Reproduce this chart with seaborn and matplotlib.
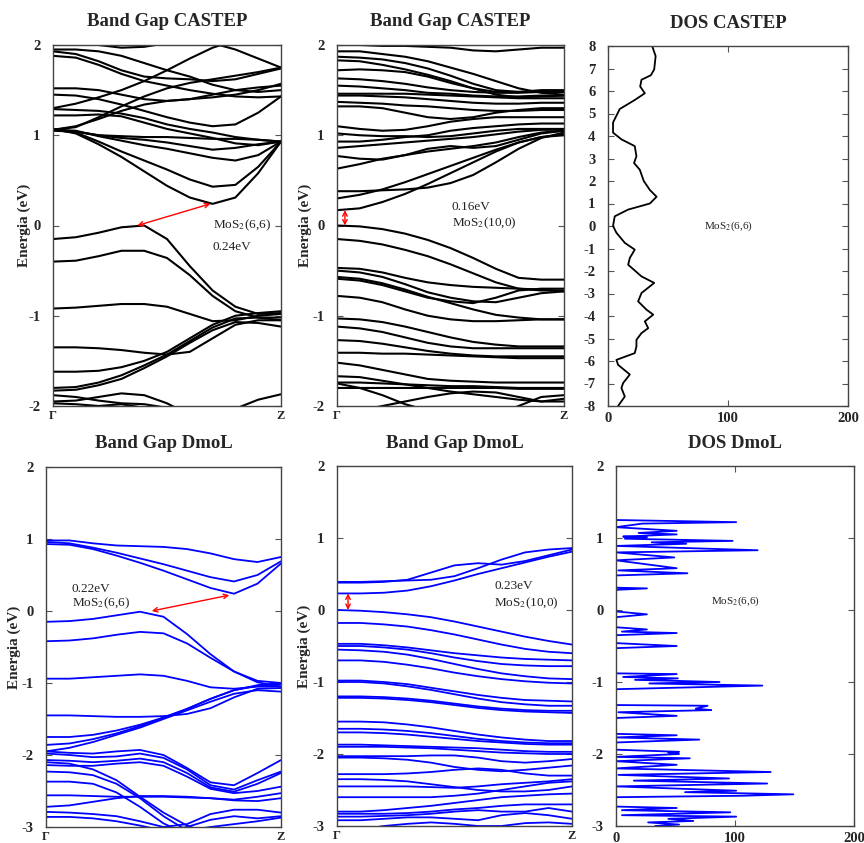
import numpy as np
import pandas as pd
import seaborn as sns
import matplotlib
matplotlib.use("Agg")
import matplotlib.pyplot as plt

# k-path Gamma -> Z, sampled at 11 points
K_PATH = [0.0, 0.1, 0.2, 0.3, 0.4, 0.5, 0.6, 0.7, 0.8, 0.9, 1.0]

# CASTEP MoS2(6,6) bands (eV)
CASTEP_66_BANDS = [
    [1.07, 1.02, 0.90, 0.76, 0.60, 0.44, 0.31, 0.24, 0.31, 0.58, 0.93],
    [1.06, 1.03, 0.93, 0.82, 0.72, 0.62, 0.51, 0.43, 0.45, 0.65, 0.93],
    [1.06, 1.05, 0.99, 0.94, 0.89, 0.85, 0.80, 0.75, 0.72, 0.78, 0.93],
    [1.05, 1.04, 1.00, 0.97, 0.95, 0.92, 0.88, 0.84, 0.86, 0.90, 0.93],
    [1.07, 1.04, 1.00, 0.99, 0.98, 0.98, 0.97, 0.96, 0.96, 0.95, 0.93],
    [1.22, 1.22, 1.23, 1.21, 1.14, 1.07, 1.02, 0.97, 0.91, 0.89, 0.93],
    [1.29, 1.28, 1.27, 1.24, 1.19, 1.12, 1.07, 1.03, 0.98, 0.95, 0.93],
    [1.06, 1.09, 1.20, 1.32, 1.43, 1.52, 1.58, 1.62, 1.66, 1.70, 1.75],
    [1.06, 1.10, 1.18, 1.27, 1.34, 1.38, 1.40, 1.42, 1.45, 1.50, 1.57],
    [1.52, 1.52, 1.50, 1.45, 1.40, 1.38, 1.40, 1.45, 1.50, 1.53, 1.55],
    [1.45, 1.44, 1.40, 1.34, 1.27, 1.20, 1.14, 1.10, 1.12, 1.25, 1.43],
    [1.93, 1.90, 1.82, 1.72, 1.65, 1.63, 1.62, 1.60, 1.62, 1.68, 1.74],
    [1.88, 1.86, 1.78, 1.68, 1.60, 1.55, 1.50, 1.46, 1.43, 1.42, 1.43],
    [1.95, 1.95, 1.93, 1.88, 1.80, 1.72, 1.65, 1.56, 1.50, 1.48, 1.50],
    [1.30, 1.35, 1.42, 1.50, 1.60, 1.72, 1.85, 1.97, 2.05, 2.10, 2.10],
    [2.10, 2.05, 2.00, 1.97, 1.98, 2.02, 2.05, 2.08, 2.10, 2.10, 2.10],
    [2.30, 2.25, 2.20, 2.15, 2.10, 2.08, 2.05, 2.02, 1.95, 1.85, 1.75],
    [-0.15, -0.13, -0.08, -0.02, 0.00, -0.15, -0.45, -0.72, -0.90, -0.98, -0.97],
    [-0.40, -0.39, -0.34, -0.28, -0.28, -0.36, -0.55, -0.78, -0.95, -1.02, -1.05],
    [-0.92, -0.91, -0.89, -0.87, -0.87, -0.90, -0.98, -1.06, -1.05, -1.00, -0.98],
    [-1.35, -1.35, -1.36, -1.38, -1.41, -1.43, -1.40, -1.25, -1.10, -1.05, -1.05],
    [-1.62, -1.62, -1.61, -1.57, -1.50, -1.40, -1.25, -1.10, -1.00, -0.97, -0.95],
    [-1.80, -1.79, -1.74, -1.66, -1.55, -1.43, -1.28, -1.13, -1.03, -1.02, -1.02],
    [-1.83, -1.82, -1.77, -1.70, -1.58, -1.45, -1.30, -1.16, -1.07, -1.08, -1.12],
    [-1.88, -1.90, -1.94, -1.97, -1.98, -2.02, -2.10, -2.20, -2.30, -2.40, -2.45],
    [-1.95, -1.94, -1.90, -1.86, -1.88, -1.97, -2.10, -2.20, -2.25, -2.25, -2.25],
    [-1.97, -1.98, -2.00, -1.98, -2.02, -2.10, -2.20, -2.30, -2.35, -2.35, -2.35],
    [-2.40, -2.40, -2.40, -2.40, -2.38, -2.33, -2.25, -2.15, -2.03, -1.93, -1.87],
]

# CASTEP MoS2(10,0) bands (eV)
CASTEP_100_BANDS = [
    [0.17, 0.19, 0.26, 0.35, 0.46, 0.58, 0.70, 0.82, 0.92, 0.98, 1.00],
    [0.30, 0.34, 0.40, 0.48, 0.57, 0.66, 0.75, 0.84, 0.92, 0.98, 1.01],
    [0.38, 0.38, 0.39, 0.40, 0.42, 0.47, 0.56, 0.70, 0.85, 0.97, 1.03],
    [0.63, 0.68, 0.74, 0.78, 0.82, 0.85, 0.88, 0.92, 0.98, 1.03, 1.05],
    [0.77, 0.74, 0.73, 0.78, 0.85, 0.88, 0.86, 0.88, 0.95, 1.02, 1.05],
    [0.86, 0.88, 0.90, 0.92, 0.94, 0.96, 0.98, 1.01, 1.04, 1.06, 1.06],
    [0.93, 0.93, 0.95, 0.98, 1.00, 1.05, 1.08, 1.10, 1.12, 1.13, 1.13],
    [1.02, 1.00, 0.99, 0.99, 0.98, 0.99, 1.02, 1.05, 1.07, 1.07, 1.07],
    [1.10, 1.07, 1.05, 1.06, 1.10, 1.15, 1.18, 1.20, 1.20, 1.20, 1.20],
    [1.32, 1.32, 1.30, 1.25, 1.20, 1.18, 1.20, 1.25, 1.28, 1.30, 1.30],
    [1.37, 1.36, 1.35, 1.33, 1.32, 1.30, 1.28, 1.27, 1.27, 1.28, 1.28],
    [1.44, 1.44, 1.43, 1.42, 1.40, 1.38, 1.36, 1.35, 1.35, 1.36, 1.36],
    [1.46, 1.46, 1.46, 1.46, 1.45, 1.44, 1.43, 1.42, 1.41, 1.41, 1.41],
    [1.55, 1.54, 1.52, 1.50, 1.47, 1.46, 1.44, 1.43, 1.43, 1.44, 1.44],
    [1.63, 1.62, 1.60, 1.57, 1.53, 1.50, 1.48, 1.47, 1.47, 1.48, 1.48],
    [1.72, 1.73, 1.72, 1.70, 1.65, 1.58, 1.52, 1.48, 1.48, 1.50, 1.50],
    [1.83, 1.82, 1.78, 1.73, 1.67, 1.60, 1.52, 1.45, 1.42, 1.43, 1.44],
    [1.87, 1.86, 1.84, 1.80, 1.74, 1.66, 1.57, 1.50, 1.48, 1.48, 1.48],
    [1.93, 1.93, 1.90, 1.87, 1.82, 1.75, 1.68, 1.60, 1.52, 1.47, 1.45],
    [2.00, 2.00, 1.99, 1.99, 1.98, 1.97, 1.94, 1.93, 1.95, 1.97, 1.97],
    [0.00, -0.01, -0.04, -0.09, -0.16, -0.25, -0.36, -0.48, -0.58, -0.60, -0.60],
    [-0.15, -0.17, -0.21, -0.27, -0.34, -0.43, -0.53, -0.63, -0.70, -0.72, -0.72],
    [-0.47, -0.48, -0.52, -0.58, -0.63, -0.66, -0.68, -0.69, -0.70, -0.71, -0.73],
    [-0.50, -0.52, -0.57, -0.65, -0.74, -0.80, -0.84, -0.85, -0.80, -0.75, -0.73],
    [-0.57, -0.59, -0.64, -0.71, -0.79, -0.86, -0.93, -0.99, -1.02, -1.04, -1.04],
    [-0.59, -0.61, -0.66, -0.73, -0.80, -0.84, -0.86, -0.80, -0.72, -0.70, -0.70],
    [-0.78, -0.80, -0.85, -0.93, -1.00, -1.04, -1.06, -1.06, -1.05, -1.04, -1.04],
    [-1.03, -1.04, -1.07, -1.12, -1.18, -1.24, -1.29, -1.32, -1.34, -1.34, -1.34],
    [-1.12, -1.14, -1.18, -1.24, -1.30, -1.34, -1.36, -1.36, -1.36, -1.36, -1.36],
    [-1.27, -1.28, -1.31, -1.35, -1.39, -1.42, -1.44, -1.45, -1.45, -1.45, -1.45],
    [-1.41, -1.41, -1.42, -1.42, -1.43, -1.44, -1.45, -1.46, -1.47, -1.47, -1.47],
    [-1.52, -1.55, -1.60, -1.65, -1.70, -1.72, -1.73, -1.74, -1.74, -1.74, -1.74],
    [-1.67, -1.68, -1.72, -1.76, -1.80, -1.84, -1.87, -1.90, -1.93, -1.95, -1.95],
    [-1.74, -1.74, -1.75, -1.76, -1.77, -1.78, -1.78, -1.79, -1.80, -1.80, -1.80],
    [-1.80, -1.80, -1.80, -1.80, -1.80, -1.80, -1.80, -1.80, -1.81, -1.81, -1.81],
    [-2.10, -2.05, -2.00, -1.95, -1.90, -1.86, -1.84, -1.85, -1.90, -1.95, -1.92],
    [-1.75, -1.80, -1.88, -1.98, -2.05, -2.12, -2.15, -2.10, -2.00, -1.90, -1.88],
]

# DMol3 MoS2(6,6) bands (eV)
DMOL_66_BANDS = [
    [0.93, 0.92, 0.86, 0.77, 0.67, 0.56, 0.44, 0.32, 0.24, 0.38, 0.66],
    [0.96, 0.94, 0.88, 0.81, 0.73, 0.65, 0.56, 0.47, 0.41, 0.50, 0.69],
    [0.98, 0.98, 0.94, 0.91, 0.90, 0.89, 0.86, 0.80, 0.72, 0.68, 0.75],
    [-0.15, -0.14, -0.11, -0.06, -0.01, -0.08, -0.32, -0.60, -0.84, -0.99, -1.05],
    [-0.42, -0.41, -0.38, -0.33, -0.29, -0.31, -0.45, -0.65, -0.84, -0.97, -1.00],
    [-0.94, -0.94, -0.92, -0.90, -0.88, -0.90, -0.97, -1.06, -1.08, -1.05, -1.05],
    [-1.45, -1.45, -1.46, -1.47, -1.47, -1.46, -1.43, -1.35, -1.20, -1.08, -1.07],
    [-1.75, -1.75, -1.72, -1.66, -1.58, -1.48, -1.36, -1.22, -1.10, -1.03, -1.00],
    [-1.86, -1.84, -1.78, -1.70, -1.60, -1.48, -1.36, -1.22, -1.10, -1.04, -1.02],
    [-1.95, -1.90, -1.82, -1.72, -1.62, -1.50, -1.38, -1.26, -1.15, -1.10, -1.12],
    [-1.95, -1.97, -1.98, -1.95, -1.93, -2.00, -2.18, -2.38, -2.42, -2.25, -2.07],
    [-1.98, -2.00, -2.03, -2.02, -1.98, -2.04, -2.20, -2.42, -2.48, -2.35, -2.23],
    [-2.07, -2.08, -2.10, -2.08, -2.05, -2.10, -2.25, -2.45, -2.51, -2.40, -2.25],
    [-2.14, -2.15, -2.15, -2.12, -2.10, -2.15, -2.30, -2.47, -2.53, -2.50, -2.44],
    [-2.56, -2.56, -2.57, -2.58, -2.58, -2.58, -2.59, -2.60, -2.63, -2.64, -2.60],
    [-2.23, -2.24, -2.28, -2.40, -2.60, -2.85, -3.05, -3.20, -3.30, -3.30, -3.30],
    [-2.37, -2.37, -2.40, -2.52, -2.72, -2.95, -3.10, -3.20, -3.30, -3.30, -3.30],
    [-2.10, -2.12, -2.20, -2.35, -2.58, -2.80, -2.98, -3.10, -3.20, -3.30, -3.30],
    [-2.72, -2.70, -2.65, -2.60, -2.57, -2.57, -2.58, -2.60, -2.62, -2.58, -2.53],
    [-2.79, -2.80, -2.82, -2.85, -2.92, -3.00, -2.96, -2.82, -2.76, -2.76, -2.80],
    [-2.86, -2.86, -2.88, -2.92, -2.98, -3.05, -3.00, -2.90, -2.85, -2.88, -2.85],
    [-3.30, -3.30, -3.25, -3.20, -3.15, -3.10, -3.05, -3.00, -2.96, -2.92, -2.87],
]

# DMol3 MoS2(10,0) bands (eV)
DMOL_100_BANDS = [
    [0.23, 0.23, 0.24, 0.27, 0.33, 0.41, 0.50, 0.58, 0.66, 0.74, 0.81],
    [0.38, 0.38, 0.39, 0.42, 0.52, 0.62, 0.65, 0.63, 0.68, 0.76, 0.84],
    [0.39, 0.39, 0.40, 0.41, 0.42, 0.47, 0.58, 0.70, 0.80, 0.84, 0.86],
    [0.00, -0.01, -0.03, -0.06, -0.10, -0.16, -0.23, -0.30, -0.37, -0.43, -0.48],
    [-0.18, -0.18, -0.20, -0.23, -0.28, -0.34, -0.41, -0.48, -0.54, -0.58, -0.60],
    [-0.47, -0.47, -0.49, -0.52, -0.56, -0.60, -0.63, -0.66, -0.68, -0.69, -0.70],
    [-0.50, -0.50, -0.52, -0.55, -0.60, -0.66, -0.71, -0.75, -0.77, -0.78, -0.78],
    [-0.55, -0.56, -0.58, -0.62, -0.68, -0.75, -0.82, -0.88, -0.92, -0.95, -0.96],
    [-0.70, -0.70, -0.72, -0.76, -0.81, -0.87, -0.92, -0.96, -0.99, -1.01, -1.02],
    [-0.98, -0.98, -1.00, -1.03, -1.08, -1.13, -1.18, -1.22, -1.25, -1.26, -1.27],
    [-1.00, -1.00, -1.02, -1.06, -1.11, -1.17, -1.23, -1.28, -1.31, -1.33, -1.33],
    [-1.20, -1.20, -1.21, -1.23, -1.26, -1.30, -1.34, -1.37, -1.39, -1.40, -1.40],
    [-1.22, -1.22, -1.23, -1.25, -1.28, -1.32, -1.36, -1.39, -1.41, -1.42, -1.43],
    [-1.55, -1.55, -1.56, -1.59, -1.63, -1.68, -1.73, -1.77, -1.80, -1.82, -1.82],
    [-1.65, -1.65, -1.66, -1.68, -1.71, -1.75, -1.79, -1.82, -1.84, -1.85, -1.85],
    [-1.70, -1.70, -1.71, -1.73, -1.76, -1.79, -1.82, -1.84, -1.86, -1.87, -1.87],
    [-1.87, -1.87, -1.88, -1.89, -1.90, -1.91, -1.92, -1.94, -1.96, -1.97, -1.97],
    [-1.90, -1.90, -1.90, -1.91, -1.92, -1.94, -1.96, -1.98, -1.99, -2.00, -2.00],
    [-2.03, -2.03, -2.03, -2.03, -2.02, -2.02, -2.05, -2.10, -2.12, -2.10, -2.07],
    [-2.05, -2.05, -2.06, -2.08, -2.12, -2.18, -2.22, -2.24, -2.22, -2.19, -2.16],
    [-2.28, -2.28, -2.28, -2.27, -2.25, -2.22, -2.20, -2.22, -2.27, -2.30, -2.30],
    [-2.35, -2.35, -2.36, -2.38, -2.42, -2.46, -2.50, -2.52, -2.52, -2.50, -2.45],
    [-2.45, -2.45, -2.45, -2.45, -2.46, -2.47, -2.45, -2.42, -2.40, -2.38, -2.35],
    [-2.60, -2.60, -2.60, -2.60, -2.60, -2.58, -2.55, -2.50, -2.45, -2.40, -2.38],
    [-2.80, -2.80, -2.78, -2.75, -2.72, -2.68, -2.64, -2.60, -2.58, -2.56, -2.55],
    [-2.83, -2.83, -2.83, -2.82, -2.80, -2.77, -2.75, -2.72, -2.70, -2.70, -2.70],
    [-2.87, -2.87, -2.86, -2.85, -2.83, -2.80, -2.78, -2.80, -2.80, -2.75, -2.80],
    [-2.92, -2.92, -2.90, -2.88, -2.88, -2.90, -2.92, -2.85, -2.82, -2.85, -2.90],
    [-3.10, -3.05, -3.00, -2.97, -2.95, -2.97, -3.00, -3.00, -2.96, -2.95, -2.97],
]

# DOS CASTEP (energy, states)
DOS_CASTEP_E = [8.0, 7.55, 6.96, 6.7, 6.5, 6.2, 5.9, 5.6, 5.2, 4.6, 4.15, 3.85, 3.55,
                3.1, 2.8, 2.5, 2.0, 1.6, 1.3, 1.0, 0.73, 0.43, 0.0, -0.3, -0.75,
                -1.05, -1.42, -1.72, -2.24, -2.53, -2.98, -3.35, -3.72, -3.94,
                -4.24, -4.54, -4.76, -5.06, -5.35, -5.65, -5.95, -6.17, -6.6,
                -6.98, -7.2, -7.58, -8.0]
DOS_CASTEP_N = [36.8, 39.7, 38.5, 35.7, 27.9, 26.8, 30.7, 22.3, 9.8, 4.2, 4.2, 11.2, 22.3,
                23.7, 21.7, 26.5, 29.8, 34.9, 40.5, 34.9, 16.8, 5.6, 4.2, 7.0, 14.0,
                22.3, 18.2, 16.8, 27.9, 38.5, 27.9, 25.1, 32.1, 37.7,
                30.7, 33.5, 27.9, 23.7, 23.7, 22.3, 7.0, 8.4, 18.2,
                12.6, 11.2, 14.0, 8.4]

# DOS DMol3 (energy, states)
DOS_DMOL_E = [2.0, 1.25, 1.22, 1.2, 1.15, 1.1, 1.07, 1.05, 1.02, 1.01, 0.99, 0.96, 0.94,
              0.92, 0.89, 0.83, 0.8, 0.73, 0.69, 0.58, 0.55, 0.51, 0.48, 0.31, 0.30,
              0.28, -0.02, -0.06, -0.1, -0.24, -0.27, -0.30, -0.32, -0.35, -0.46,
              -0.5, -0.53, -0.88, -0.89, -0.93, -0.95, -0.97, -1.0, -1.02, -1.05,
              -1.1, -1.32, -1.33, -1.37, -1.39, -1.42, -1.47, -1.5, -1.72, -1.74,
              -1.77, -1.8, -1.84, -1.94, -1.97, -1.98, -2.0, -2.04, -2.06, -2.1,
              -2.15, -2.2, -2.25, -2.29, -2.34, -2.37, -2.41, -2.45, -2.51, -2.53,
              -2.56, -2.58, -2.6, -2.73, -2.75, -2.78, -2.81, -2.85, -2.87, -2.9,
              -2.93, -2.95, -2.98, -3.0]
DOS_DMOL_N = [0, 0, 101, 22, 0, 51, 19, 51, 6, 26, 7.5, 98, 30,
              59, 0.5, 119, 0, 49, 0, 51, 2, 60, 0, 0, 26,
              0, 0, 26, 0, 0, 26, 5, 51, 0, 0,
              51, 0, 0, 51, 6, 52, 16, 87, 28, 123,
              0, 0, 77, 67, 80, 2, 51, 0, 0, 51,
              0, 70, 0, 0, 53, 44, 53, 0, 62, 0,
              51, 0, 130, 2, 95, 15, 127, 0, 101, 58,
              149, 106, 0, 0, 51, 5, 96, 5, 101, 44,
              65, 27, 53, 33]

# band-gap arrows: (k_vbm, E_vbm, k_cbm, E_cbm)
GAP_CASTEP_66 = [0.37, 0.0, 0.69, 0.24]
GAP_CASTEP_100 = [0.035, 0.0, 0.035, 0.17]
GAP_DMOL_66 = [0.45, 0.0, 0.78, 0.22]
GAP_DMOL_100 = [0.047, 0.0, 0.047, 0.23]

BLACK = "#000000"
BLUE = "#0000ff"

sns.set_style("ticks")
plt.rcParams["font.family"] = ["Liberation Serif", "DejaVu Serif"]
plt.rcParams["mathtext.fontset"] = "stix"

W, H = 864, 843
fig = plt.figure(figsize=(W / 100, H / 100), dpi=100)


def px_axes(l, t, r, b):
    return fig.add_axes([l / W, 1 - b / H, (r - l) / W, (b - t) / H])


def band_frame(bands):
    rows = []
    for i, vals in enumerate(bands):
        for k, e in zip(K_PATH, vals):
            rows.append((i, k, e))
    return pd.DataFrame(rows, columns=["band", "k", "E"])


def style_axes(ax, yticks):
    for s in ax.spines.values():
        s.set_visible(True)
        s.set_color("#444444")
        s.set_linewidth(1.0)
    ax.set_yticks(yticks)
    ax.set_yticklabels([str(t) for t in yticks], fontweight="bold", fontsize=10.5)
    ax.tick_params(axis="y", direction="in", length=4, right=True, pad=9,
                   color="#555555")
    ax.set_xlabel("")
    ax.set_ylabel("")


def band_panel(box, bands, color, lw, ylim, yticks, gap, labels, title, ylabel_x):
    ax = px_axes(*box)
    df = band_frame(bands)
    sns.lineplot(data=df, x="k", y="E", units="band", estimator=None,
                 color=color, lw=lw, ax=ax, legend=False)
    ax.set_xlim(0, 1)
    ax.set_ylim(*ylim)
    style_axes(ax, yticks)
    ax.set_xticks([0, 1])
    ax.set_xticklabels(["Γ", "Z"], fontweight="bold", fontsize=9)
    ax.tick_params(axis="x", length=0, pad=3)
    ax.annotate("", xy=(gap[0], gap[1]), xytext=(gap[2], gap[3]),
                arrowprops=dict(arrowstyle="<->", color="red", lw=1.0,
                                shrinkA=0, shrinkB=0, mutation_scale=8))
    for x, y, s in labels:
        ax.text(x, y, s, fontsize=9.5, color="#222222", va="center", ha="left")
    l, t, r, b = box
    fig.text((l + r) / 2 / W, 1 - (t - 23) / H, title, ha="center", va="center",
             fontsize=13.5, fontweight="bold")
    fig.text(ylabel_x / W, 1 - (t + b) / 2 / H, "Energia (eV)", rotation=90,
             ha="center", va="center", fontsize=11, fontweight="bold")
    return ax


def dos_panel(box, energy, states, color, ylim, yticks, label_y, title):
    ax = px_axes(*box)
    sns.lineplot(x=states, y=energy, sort=False, estimator=None,
                 color=color, lw=1.3, ax=ax)
    ax.set_xlim(0, 200)
    ax.set_ylim(*ylim)
    style_axes(ax, yticks)
    ax.set_xticks([0, 100, 200])
    ax.set_xticklabels(["0", "100", "200"], fontweight="bold", fontsize=10.5)
    ax.tick_params(axis="x", direction="in", length=4, top=True, pad=4,
                   color="#555555")
    ax.text(100, label_y, "MoS$_2$(6,6)", fontsize=8, ha="center", va="center",
            color="#222222")
    l, t, r, b = box
    fig.text((l + r) / 2 / W, 1 - (t - 23) / H, title, ha="center", va="center",
             fontsize=13.5, fontweight="bold")
    return ax


band_panel((53, 45, 281, 406), CASTEP_66_BANDS, BLACK, 1.5, (-2, 2), [-2, -1, 0, 1, 2],
           GAP_CASTEP_66,
           [(0.70, 0.0, "MoS$_2$(6,6)"), (0.70, -0.24, "0.24eV")],
           "Band Gap CASTEP", 24)
band_panel((337, 45, 564, 406), CASTEP_100_BANDS, BLACK, 1.5, (-2, 2), [-2, -1, 0, 1, 2],
           GAP_CASTEP_100,
           [(0.505, 0.2, "0.16eV"), (0.505, 0.03, "MoS$_2$(10,0)")],
           "Band Gap CASTEP", 305)
dos_panel((608, 46, 848, 406), DOS_CASTEP_E, DOS_CASTEP_N, BLACK, (-8, 8),
          list(range(-8, 9)), 0.0, "DOS CASTEP")

band_panel((46, 467, 281, 827), DMOL_66_BANDS, BLUE, 1.3, (-3, 2), [-3, -2, -1, 0, 1, 2],
           GAP_DMOL_66,
           [(0.11, 0.31, "0.22eV"), (0.11, 0.11, "MoS$_2$(6,6)")],
           "Band Gap DmoL", 14)
band_panel((337, 466, 572, 826), DMOL_100_BANDS, BLUE, 1.3, (-3, 2), [-3, -2, -1, 0, 1, 2],
           GAP_DMOL_100,
           [(0.67, 0.33, "0.23eV"), (0.67, 0.10, "MoS$_2$(10,0)")],
           "Band Gap DmoL", 304)
dos_panel((616, 466, 854, 826), DOS_DMOL_E, DOS_DMOL_N, BLUE, (-3, 2),
          [-3, -2, -1, 0, 1, 2], 0.12, "DOS DmoL")

fig.savefig("out.png", dpi=100)
